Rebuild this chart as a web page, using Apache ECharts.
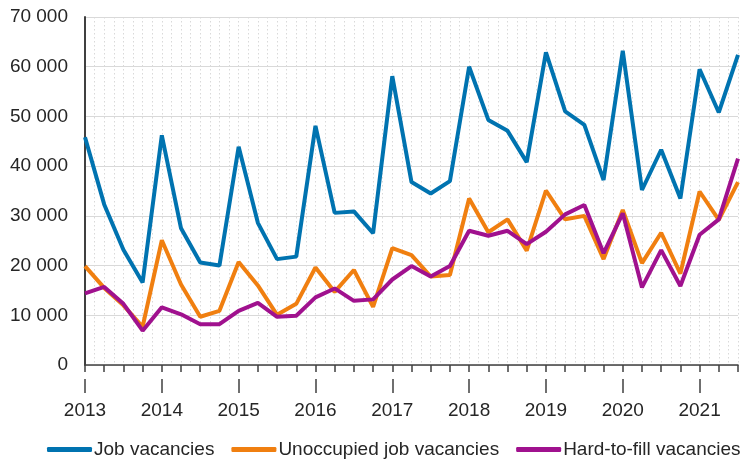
<!DOCTYPE html>
<html>
<head>
<meta charset="utf-8">
<script src="https://cdn.jsdelivr.net/npm/echarts@6/dist/echarts.min.js"></script>
<style>
html,body{margin:0;padding:0;background:#fff;}
#chart{width:741px;height:465px;}
</style>
</head>
<body>
<div id="chart"></div>
<script>
var quarters = [
  '2013Q1','2013Q2','2013Q3','2013Q4',
  '2014Q1','2014Q2','2014Q3','2014Q4',
  '2015Q1','2015Q2','2015Q3','2015Q4',
  '2016Q1','2016Q2','2016Q3','2016Q4',
  '2017Q1','2017Q2','2017Q3','2017Q4',
  '2018Q1','2018Q2','2018Q3','2018Q4',
  '2019Q1','2019Q2','2019Q3','2019Q4',
  '2020Q1','2020Q2','2020Q3','2020Q4',
  '2021Q1','2021Q2','2021Q3'
];
var jobVacancies = [
  45800, 32300, 23200, 16600,
  46200, 27500, 20600, 20000,
  43900, 28600, 21300, 21800,
  48100, 30600, 30900, 26500,
  58100, 36800, 34500, 37000,
  60000, 49300, 47100, 40800,
  62900, 51000, 48300, 37200,
  63200, 35200, 43300, 33500,
  59500, 50800, 62400
];
var unoccupied = [
  19900, 15500, 12000, 7700,
  25100, 16200, 9700, 10900,
  20700, 16000, 10100, 12300,
  19600, 14700, 19100, 11700,
  23500, 22100, 17800, 18100,
  33500, 26700, 29300, 23000,
  35100, 29300, 30000, 21300,
  31200, 20500, 26600, 18400,
  34900, 29200, 36800
];
var hardToFill = [
  14400, 15700, 12300, 6900,
  11600, 10200, 8200, 8200,
  10900, 12500, 9700, 9900,
  13600, 15400, 12900, 13200,
  17200, 19900, 17800, 19900,
  27000, 26000, 27000, 24300,
  26800, 30300, 32200, 22500,
  30500, 15600, 23100, 15900,
  26200, 29300, 41500
];
var yearLabels = ['2013','2014','2015','2016','2017','2018','2019','2020','2021'];

// half-quarter grid positions for the dotted vertical grid
var halfSteps = [];
for (var i = 0; i < quarters.length; i++) {
  halfSteps.push(quarters[i]);
  if (i < quarters.length - 1) halfSteps.push(quarters[i] + 'b');
}

var textColor = '#262626';
var fontFamily = 'Liberation Sans, Arial, sans-serif';

var chart = echarts.init(document.getElementById('chart'));
chart.setOption({
  animation: false,
  backgroundColor: '#ffffff',
  color: ['#0073b0', '#f07f10', '#a0118e'],
  grid: { left: 85, right: 3, top: 17, bottom: 100, containLabel: false },
  legend: {
    left: 47,
    top: 440,
    padding: 0,
    icon: 'roundRect',
    itemWidth: 45,
    itemHeight: 5,
    itemGap: 17,
    textStyle: { fontSize: 19, color: textColor, fontFamily: fontFamily, padding: [0, 0, 0, -3] },
    data: ['Job vacancies', 'Unoccupied job vacancies', 'Hard-to-fill vacancies']
  },
  xAxis: [
    {
      type: 'category',
      data: quarters,
      boundaryGap: false,
      position: 'bottom',
      axisLine: { show: true, lineStyle: { color: '#404040', width: 1.5 } },
      axisTick: { show: true, interval: 0, length: 7, lineStyle: { color: '#404040', width: 1.5 } },
      axisLabel: { show: false },
      splitLine: { show: false }
    },
    {
      type: 'category',
      data: quarters,
      boundaryGap: false,
      position: 'bottom',
      offset: 14,
      axisLine: { show: false },
      axisTick: { show: true, interval: 3, length: 14, lineStyle: { color: '#404040', width: 1.5 } },
      axisLabel: {
        show: true, interval: 3, margin: 22,
        fontSize: 19, color: textColor, fontFamily: fontFamily,
        formatter: function (v, idx) { return yearLabels[idx / 4] || ''; }
      },
      splitLine: { show: false }
    },
    {
      type: 'category',
      data: halfSteps,
      boundaryGap: false,
      position: 'top',
      axisLine: { show: false },
      axisTick: { show: false },
      axisLabel: { show: false },
      splitLine: { show: true, interval: 0, lineStyle: { color: '#d9d9d9', type: [1.5, 2.5], width: 1 } }
    }
  ],
  yAxis: {
    type: 'value',
    min: 0,
    max: 70000,
    interval: 10000,
    axisLine: { show: true, lineStyle: { color: '#404040', width: 2 } },
    axisTick: { show: false },
    axisLabel: {
      margin: 17, fontSize: 19, color: textColor, fontFamily: fontFamily,
      formatter: function (v) {
        return String(v).replace(/\B(?=(\d{3})+(?!\d))/g, ' ');
      }
    },
    splitLine: { show: true, lineStyle: { color: '#d9d9d9', width: 1.2 } }
  },
  series: [
    {
      name: 'Job vacancies', type: 'line', xAxisIndex: 0, data: jobVacancies,
      showSymbol: false, symbol: 'none', lineStyle: { width: 4 }, z: 3
    },
    {
      name: 'Unoccupied job vacancies', type: 'line', xAxisIndex: 0, data: unoccupied,
      showSymbol: false, symbol: 'none', lineStyle: { width: 4 }, z: 4
    },
    {
      name: 'Hard-to-fill vacancies', type: 'line', xAxisIndex: 0, data: hardToFill,
      showSymbol: false, symbol: 'none', lineStyle: { width: 4 }, z: 5
    }
  ]
});
</script>
</body>
</html>
